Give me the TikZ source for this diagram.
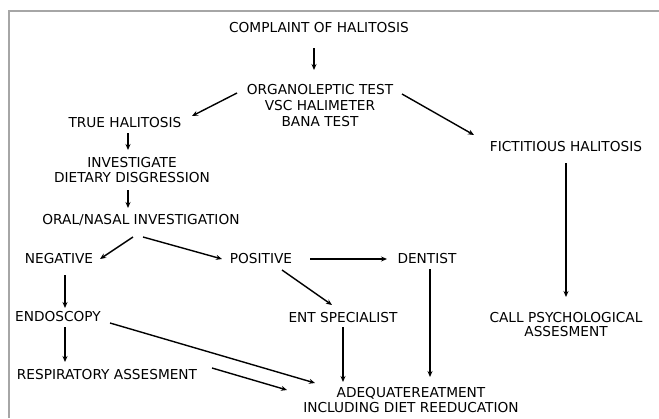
\documentclass[tikz,border=0pt]{standalone}
\usepackage{fontspec}
\setmainfont{DejaVu Sans}
\usepackage[dvipsnames]{xcolor}
\usetikzlibrary{arrows.meta}

\begin{document}
\begin{tikzpicture}[x=1pt,y=-1pt,->,>={Stealth[length=6pt,width=5pt]},line width=1.4pt,box node/.style={inner sep=2pt,align=center,font=\fontsize{13.7}{15}\selectfont}]
                \useasboundingbox (0,0) rectangle (659,418);
                \draw[-,gray!70,line width=1.3pt] (9,418) -- (9,11) -- (659,11);

                \node[box node] (cmp) at (319,28) {COMPLAINT OF HALITOSIS};
                \node[box node,font=\fontsize{13.7}{16}\selectfont] (org) at (320,106) {ORGANOLEPTIC TEST\\VSC HALIMETER\\BANA TEST};
                \node[box node] (tru) at (125,123) {TRUE HALITOSIS};
                \node[box node] (fic) at (566,147) {FICTITIOUS HALITOSIS};
                \node[box node] (inv) at (132,170) {INVESTIGATE\\DIETARY DISGRESSION};
                \node[box node] (ora) at (141,220) {ORAL/NASAL INVESTIGATION};
                \node[box node] (neg) at (59,259) {NEGATIVE};
                \node[box node] (pos) at (261,259) {POSITIVE};
                \node[box node] (den) at (427,259) {DENTIST};
                \node[box node] (ent) at (343,318) {ENT SPECIALIST};
                \node[box node,font=\fontsize{13.7}{14}\selectfont] (psy) at (566,325) {CALL PSYCHOLOGICAL\\ASSESMENT};
                \node[box node] (endo) at (58,317) {ENDOSCOPY};
                \node[box node] (resp) at (107,375) {RESPIRATORY ASSESMENT};
                \node[box node] (adq) at (411,400) {ADEQUATEREATMENT\\INCLUDING DIET REEDUCATION};

                \path
                    ([shift={(-5,20)}]cmp.center) edge ([shift={(-6,-36)}]org.center)
                    ([shift={(-83,-13)}]org.center) edge ([shift={(67,-7)}]tru.center)
                    ([shift={(82,-12)}]org.center) edge ([shift={(-92,-12)}]fic.center)
                    ([shift={(3,10)}]tru.center) edge ([shift={(-4,-20)}]inv.center)
                    ([shift={(-4,20)}]inv.center) edge ([shift={(-13,-12)}]ora.center)
                    ([shift={(-8,17)}]ora.center) edge ([shift={(41,0)}]neg.center)
                    ([shift={(2,17)}]ora.center) edge ([shift={(-39,0)}]pos.center)
                    ([shift={(49,0)}]pos.center) edge ([shift={(-40,0)}]den.center)
                    ([shift={(21,11)}]pos.center) edge ([shift={(-11,-13)}]ent.center)
                    ([shift={(3,10)}]den.center) edge ([shift={(19,-23)}]adq.center)
                    ([shift={(0,9)}]ent.center) edge ([shift={(-68,-18)}]adq.center)
                    ([shift={(6,16)}]neg.center) edge ([shift={(7,-9)}]endo.center)
                    ([shift={(7,10)}]endo.center) edge ([shift={(-42,-13)}]resp.center)
                    ([shift={(52,6)}]endo.center) edge ([shift={(-96,-17)}]adq.center)
                    ([shift={(105,-7)}]resp.center) edge ([shift={(-124,-10)}]adq.center)
                    ([shift={(0,16)}]fic.center) edge ([shift={(0,-28)}]psy.center)
                ;

            \end{tikzpicture}
\end{document}
